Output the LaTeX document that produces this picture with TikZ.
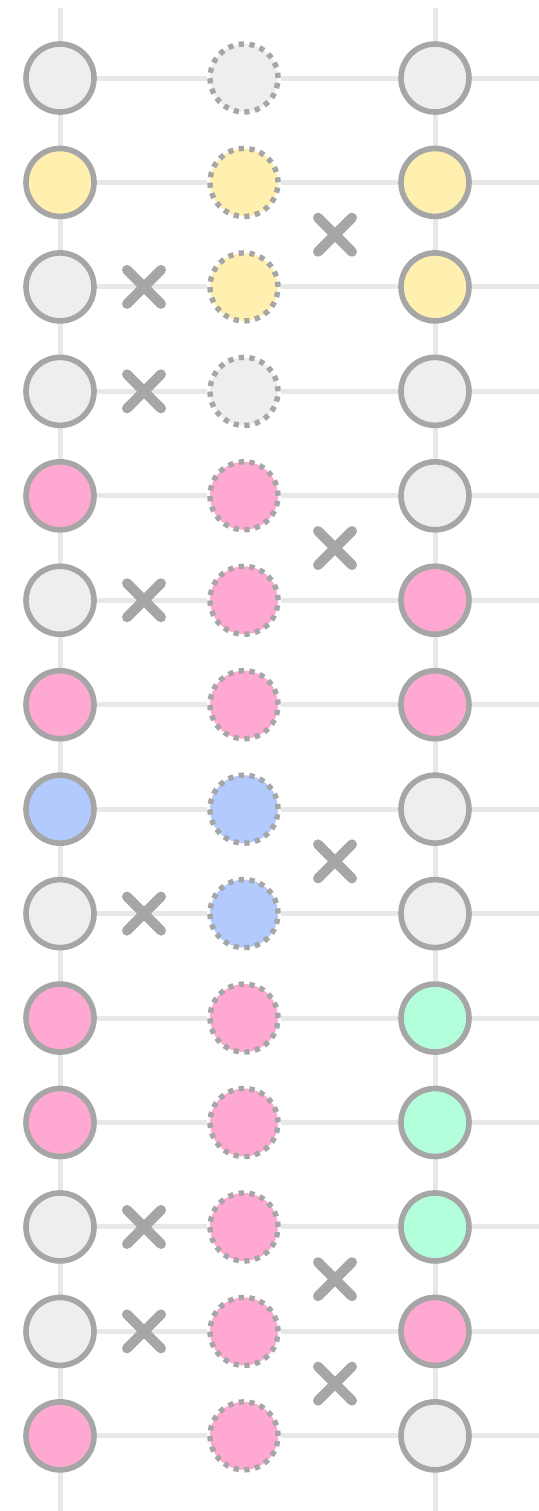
\documentclass[tikz,border=0pt]{standalone}
\usetikzlibrary{backgrounds,shapes.misc}

\definecolor{wire}{HTML}{E8E8E8}
\definecolor{rim}{HTML}{A6A6A6}
\definecolor{cgray}{HTML}{EEEEEE}
\definecolor{cyel}{HTML}{FFF0B0}
\definecolor{cpink}{HTML}{FFA8D2}
\definecolor{cblue}{HTML}{B3CAFF}
\definecolor{cgreen}{HTML}{B3FFDB}

\tikzset{
  qbit/.style={circle, draw=rim, line width=2.8pt, minimum size=34pt, inner sep=0pt},
  ghost/.style={circle, draw=rim, line width=2.7pt, dash pattern=on 2.6pt off 2.75pt, minimum size=34pt, inner sep=0pt},
  swapx/.style={cross out, draw=rim, line width=5pt, line cap=round, minimum size=12pt, inner sep=0pt},
  wireline/.style={draw=wire, line width=2.5pt}
}

\begin{document}
\begin{tikzpicture}[x=0.5pt,y=-0.5pt]
  \useasboundingbox (0,0) rectangle (539,1511);
  \coordinate (ltop) at (60,8);
  \coordinate (lbot) at (60,1511);
  \coordinate (rtop) at (435,8);
  \coordinate (rbot) at (435,1511);

  % three columns of qubits
  \foreach \cl/\cm/\cr [count=\i] in {cgray/cgray/cgray, cyel/cyel/cyel, cgray/cyel/cyel,
      cgray/cgray/cgray, cpink/cpink/cgray, cgray/cpink/cpink, cpink/cpink/cpink,
      cblue/cblue/cgray, cgray/cblue/cgray, cpink/cpink/cgreen, cpink/cpink/cgreen,
      cgray/cpink/cgreen, cgray/cpink/cpink, cpink/cpink/cgray}{
    \node[qbit, fill=\cl] (l\i) at (60,{78+(\i-1)*104.45}) {};
    \node[ghost, fill=\cm] (m\i) at (244,{78+(\i-1)*104.45}) {};
    \node[qbit, fill=\cr] (r\i) at (435,{78+(\i-1)*104.45}) {};
    \coordinate (e\i) at (539,{78+(\i-1)*104.45});
  }

  \begin{scope}[on background layer]
    \draw[wireline] (ltop) -- (lbot);
    \draw[wireline] (rtop) -- (rbot);
    \foreach \i in {1,...,14}
      \draw[wireline] (l\i.center) -- (m\i) -- (r\i) -- (e\i);
  \end{scope}

  % swaps
  \foreach \i in {3,4,6,9,12,13}
    \node[swapx] (sl\i) at (144,{78+(\i-1)*104.45}) {};
  \foreach \i in {2,5,8,12,13}
    \node[swapx] (sr\i) at (335,{78+(\i-0.5)*104.45}) {};
\end{tikzpicture}
\end{document}
